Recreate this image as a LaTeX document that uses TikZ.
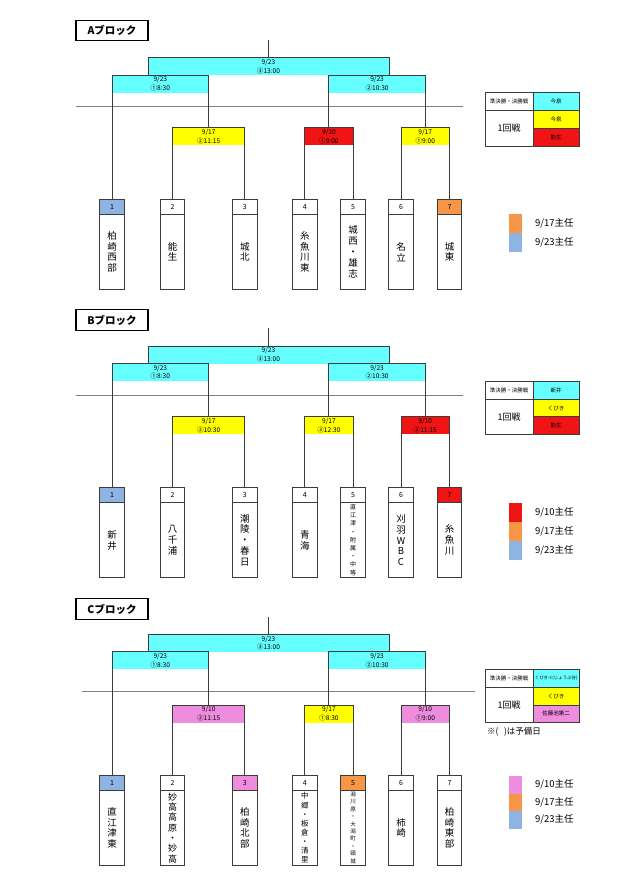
\documentclass[tikz,border=0pt]{standalone}
\usepackage{fontspec}
\setmainfont{Noto Sans CJK JP}
\usetikzlibrary{positioning}
\definecolor{linegray}{RGB}{60,60,60}
\definecolor{cyanband}{RGB}{102,255,255}
\definecolor{yellowband}{RGB}{255,255,0}
\definecolor{redband}{RGB}{240,20,20}
\definecolor{pinkband}{RGB}{238,140,222}
\definecolor{orangeteam}{RGB}{247,150,70}
\definecolor{blueteam}{RGB}{141,180,226}
\begin{document}
\begin{tikzpicture}[x=1pt, y=-1pt, line width=0.8pt,
  every node/.style={outer sep=0pt},
  title/.style={draw=black, line width=1.4pt, minimum width=72pt, minimum height=20.5pt, font=\bfseries\fontsize{10.5}{12}\selectfont},
  band/.style={fill=#1, inner sep=0pt, anchor=north, minimum height=17.5pt, align=center, font=\fontsize{6.6}{8.6}\selectfont},
  bracket/.style={draw=linegray},
  divider/.style={draw=gray},
  teamno/.style={draw=linegray, minimum width=24.3pt, minimum height=15.3pt, inner sep=0pt, anchor=north, font=\fontsize{7}{8}\selectfont},
  teamname/.style={draw=linegray, minimum width=24.3pt, minimum height=75pt, inner sep=0pt, align=center, font=\fontsize{9.5}{10.8}\selectfont},
  cell/.style={draw=linegray, inner sep=0pt, align=center, font=\fontsize{5.5}{6.5}\selectfont},
  swatch/.style={fill=#1, minimum width=12.4pt, minimum height=19pt, inner sep=0pt, anchor=north west},
  keytext/.style={anchor=west, inner sep=0pt, font=\fontsize{9.5}{11}\selectfont}]
\useasboundingbox (0,0) rectangle (640,885);

% A block
\node[title] (titleA) at (112,30.5) {Aブロック};
\coordinate (topA) at (268.5,40);
\node[band=cyanband, minimum width=241pt] (fA) at (268.5,57.7) {9/23\\③13:00};
\node[band=cyanband, minimum width=96.625pt] (sAL) at (160.3125,75.2) {9/23\\①8:30};
\node[band=cyanband, minimum width=96.375pt] (sAR) at (377.0625,75.2) {9/23\\②10:30};
\draw[divider] (75.7,106) -- (463,106);
\node[band=yellowband, minimum width=72.25pt] (rA23) at (208.625,127.7) {9/17\\②11:15};
\node[band=redband, minimum width=48.25pt] (rA45) at (328.875,127.7) {9/10\\①9:00};
\node[band=yellowband, minimum width=48.5pt] (rA67) at (425.25,127.7) {9/17\\①9:00};
\node[teamno, fill=blueteam] (tA1) at (112,199) {1};
\node[teamno] (tA2) at (172.5,199) {2};
\node[teamno] (tA3) at (244.75,199) {3};
\node[teamno] (tA4) at (304.75,199) {4};
\node[teamno] (tA5) at (353,199) {5};
\node[teamno] (tA6) at (401,199) {6};
\node[teamno, fill=orangeteam] (tA7) at (449.5,199) {7};
\node[teamname, below=0pt of tA1] (mA1) {柏\\崎\\西\\部};
\node[teamname, below=0pt of tA2] (mA2) {能\\生};
\node[teamname, below=0pt of tA3] (mA3) {城\\北};
\node[teamname, below=0pt of tA4] (mA4) {糸\\魚\\川\\東};
\node[teamname, below=0pt of tA5] (mA5) {城\\西\\・\\雄\\志};
\node[teamname, below=0pt of tA6] (mA6) {名\\立};
\node[teamname, below=0pt of tA7] (mA7) {城\\東};
\draw[bracket] (tA2.north) -- (rA23.north west) -- (rA23.north east) -- (tA3.north);
\draw[bracket] (tA4.north) -- (rA45.north west) -- (rA45.north east) -- (tA5.north);
\draw[bracket] (tA6.north) -- (rA67.north west) -- (rA67.north east) -- (tA7.north);
\draw[bracket] (tA1.north) -- (sAL.north west) -- (sAL.north east) -- (rA23.north);
\draw[bracket] (rA45.north) -- (sAR.north west) -- (sAR.north east) -- (rA67.north);
\draw[bracket] (fA.south west) -- (fA.north west) -- (fA.north east) -- (fA.south east);
\draw[bracket] (topA) -- (fA.north);
\node[cell, minimum width=48.3pt, minimum height=18.4pt, anchor=north west] (kA0) at (485,92.3) {準決勝・決勝戦};
\node[cell, minimum width=48.3pt, minimum height=35.3pt, below=0pt of kA0, font=\fontsize{9}{10}\selectfont] (kA1) {1回戦};
\node[cell, minimum width=45.7pt, minimum height=18.4pt, right=0pt of kA0, fill=cyanband] (kA2) {今泉};
\node[cell, minimum width=45.7pt, minimum height=17.6pt, below=0pt of kA2, fill=yellowband] (kA3) {今泉};
\node[cell, minimum width=45.7pt, minimum height=17.7pt, below=0pt of kA3, fill=redband] (kA4) {能生};
\node[swatch=orangeteam] (wA1) at (509.3,214.3) {};
\node[swatch=blueteam, below=0pt of wA1] (wA2) {};
\node[keytext, right=13.3pt of wA1] (xA1) {9/17主任};
\node[keytext, right=13.3pt of wA2] (xA2) {9/23主任};

% B block
\node[title] (titleB) at (112,320) {Bブロック};
\coordinate (topB) at (268.5,328.3);
\node[band=cyanband, minimum width=241pt] (fB) at (268.5,346) {9/23\\③13:00};
\node[band=cyanband, minimum width=96.625pt] (sBL) at (160.3125,363.5) {9/23\\①8:30};
\node[band=cyanband, minimum width=96.375pt] (sBR) at (377.0625,363.5) {9/23\\②10:30};
\draw[divider] (75.7,395) -- (463,395);
\node[band=yellowband, minimum width=72.25pt] (rB23) at (208.625,416.7) {9/17\\②10:30};
\node[band=yellowband, minimum width=48.25pt] (rB45) at (328.875,416.7) {9/17\\③12:30};
\node[band=redband, minimum width=48.5pt] (rB67) at (425.25,416.7) {9/10\\②11:15};
\node[teamno, fill=blueteam] (tB1) at (112,487.3) {1};
\node[teamno] (tB2) at (172.5,487.3) {2};
\node[teamno] (tB3) at (244.75,487.3) {3};
\node[teamno] (tB4) at (304.75,487.3) {4};
\node[teamno] (tB5) at (353,487.3) {5};
\node[teamno] (tB6) at (401,487.3) {6};
\node[teamno, fill=redband] (tB7) at (449.5,487.3) {7};
\node[teamname, below=0pt of tB1] (mB1) {新\\井};
\node[teamname, below=0pt of tB2] (mB2) {八\\千\\浦};
\node[teamname, below=0pt of tB3] (mB3) {潮\\陵\\・\\春\\日};
\node[teamname, below=0pt of tB4] (mB4) {青\\海};
\node[teamname, below=0pt of tB5, font=\fontsize{6}{8.2}\selectfont] (mB5) {直\\江\\津\\・\\附\\属\\・\\中\\等};
\node[teamname, below=0pt of tB6] (mB6) {刈\\羽\\W\\B\\C};
\node[teamname, below=0pt of tB7] (mB7) {糸\\魚\\川};
\draw[bracket] (tB2.north) -- (rB23.north west) -- (rB23.north east) -- (tB3.north);
\draw[bracket] (tB4.north) -- (rB45.north west) -- (rB45.north east) -- (tB5.north);
\draw[bracket] (tB6.north) -- (rB67.north west) -- (rB67.north east) -- (tB7.north);
\draw[bracket] (tB1.north) -- (sBL.north west) -- (sBL.north east) -- (rB23.north);
\draw[bracket] (rB45.north) -- (sBR.north west) -- (sBR.north east) -- (rB67.north);
\draw[bracket] (fB.south west) -- (fB.north west) -- (fB.north east) -- (fB.south east);
\draw[bracket] (topB) -- (fB.north);
\node[cell, minimum width=48.3pt, minimum height=18.3pt, anchor=north west] (kB0) at (485,381) {準決勝・決勝戦};
\node[cell, minimum width=48.3pt, minimum height=35pt, below=0pt of kB0, font=\fontsize{9}{10}\selectfont] (kB1) {1回戦};
\node[cell, minimum width=45.7pt, minimum height=18.3pt, right=0pt of kB0, fill=cyanband] (kB2) {新井};
\node[cell, minimum width=45.7pt, minimum height=17.4pt, below=0pt of kB2, fill=yellowband] (kB3) {くびき};
\node[cell, minimum width=45.7pt, minimum height=17.6pt, below=0pt of kB3, fill=redband] (kB4) {能生};
\node[swatch=redband] (wB1) at (509.3,502.7) {};
\node[swatch=orangeteam, below=0pt of wB1] (wB2) {};
\node[swatch=blueteam, below=0pt of wB2] (wB3) {};
\node[keytext, right=13.3pt of wB1] (xB1) {9/10主任};
\node[keytext, right=13.3pt of wB2] (xB2) {9/17主任};
\node[keytext, right=13.3pt of wB3] (xB3) {9/23主任};

% C block
\node[title] (titleC) at (112,609) {Cブロック};
\coordinate (topC) at (268.5,616.7);
\node[band=cyanband, minimum width=241pt] (fC) at (268.5,634.3) {9/23\\③13:00};
\node[band=cyanband, minimum width=96.625pt] (sCL) at (160.3125,651.8) {9/23\\①8:30};
\node[band=cyanband, minimum width=96.375pt] (sCR) at (377.0625,651.8) {9/23\\②10:30};
\draw[divider] (81.7,691.7) -- (475,691.7);
\node[band=pinkband, minimum width=72.25pt] (rC23) at (208.625,705) {9/10\\②11:15};
\node[band=yellowband, minimum width=48.25pt] (rC45) at (328.875,705) {9/17\\①8:30};
\node[band=pinkband, minimum width=48.5pt] (rC67) at (425.25,705) {9/10\\①9:00};
\node[teamno, fill=blueteam] (tC1) at (112,775) {1};
\node[teamno] (tC2) at (172.5,775) {2};
\node[teamno, fill=pinkband] (tC3) at (244.75,775) {3};
\node[teamno] (tC4) at (304.75,775) {4};
\node[teamno, fill=orangeteam] (tC5) at (353,775) {5};
\node[teamno] (tC6) at (401,775) {6};
\node[teamno] (tC7) at (449.5,775) {7};
\node[teamname, below=0pt of tC1] (mC1) {直\\江\\津\\東};
\node[teamname, below=0pt of tC2, font=\fontsize{9}{10.3}\selectfont] (mC2) {妙\\高\\高\\原\\・\\妙\\高};
\node[teamname, below=0pt of tC3] (mC3) {柏\\崎\\北\\部};
\node[teamname, below=0pt of tC4, font=\fontsize{7.5}{9.1}\selectfont] (mC4) {中\\郷\\・\\板\\倉\\・\\清\\里};
\node[teamname, below=0pt of tC5, font=\fontsize{5.5}{7.4}\selectfont] (mC5) {潟\\川\\原\\・\\大\\潟\\町\\・\\頸\\城};
\node[teamname, below=0pt of tC6] (mC6) {柿\\崎};
\node[teamname, below=0pt of tC7] (mC7) {柏\\崎\\東\\部};
\draw[bracket] (tC2.north) -- (rC23.north west) -- (rC23.north east) -- (tC3.north);
\draw[bracket] (tC4.north) -- (rC45.north west) -- (rC45.north east) -- (tC5.north);
\draw[bracket] (tC6.north) -- (rC67.north west) -- (rC67.north east) -- (tC7.north);
\draw[bracket] (tC1.north) -- (sCL.north west) -- (sCL.north east) -- (rC23.north);
\draw[bracket] (rC45.north) -- (sCR.north west) -- (sCR.north east) -- (rC67.north);
\draw[bracket] (fC.south west) -- (fC.north west) -- (fC.north east) -- (fC.south east);
\draw[bracket] (topC) -- (fC.north);
\node[cell, minimum width=48.3pt, minimum height=18pt, anchor=north west] (kC0) at (485,669.3) {準決勝・決勝戦};
\node[cell, minimum width=48.3pt, minimum height=35pt, below=0pt of kC0, font=\fontsize{9}{10}\selectfont] (kC1) {1回戦};
\node[cell, minimum width=45.7pt, minimum height=18pt, right=0pt of kC0, fill=cyanband, font=\fontsize{4.4}{5}\selectfont] (kC2) {くびき※(じょうぶ谷)};
\node[cell, minimum width=45.7pt, minimum height=17.7pt, below=0pt of kC2, fill=yellowband] (kC3) {くびき};
\node[cell, minimum width=45.7pt, minimum height=17.3pt, below=0pt of kC3, fill=pinkband] (kC4) {佐藤池第二};
\node[keytext, font=\fontsize{8.5}{10}\selectfont] (noteC) at (487,731.7) {※(\ \ \ )は予備日};
\node[swatch=pinkband, minimum height=17.5pt] (wC1) at (509.3,776) {};
\node[swatch=orangeteam, minimum height=17.5pt, below=0pt of wC1] (wC2) {};
\node[swatch=blueteam, minimum height=17.5pt, below=0pt of wC2] (wC3) {};
\node[keytext, right=13.3pt of wC1] (xC1) {9/10主任};
\node[keytext, right=13.3pt of wC2] (xC2) {9/17主任};
\node[keytext, right=13.3pt of wC3] (xC3) {9/23主任};
\end{tikzpicture}
\end{document}
